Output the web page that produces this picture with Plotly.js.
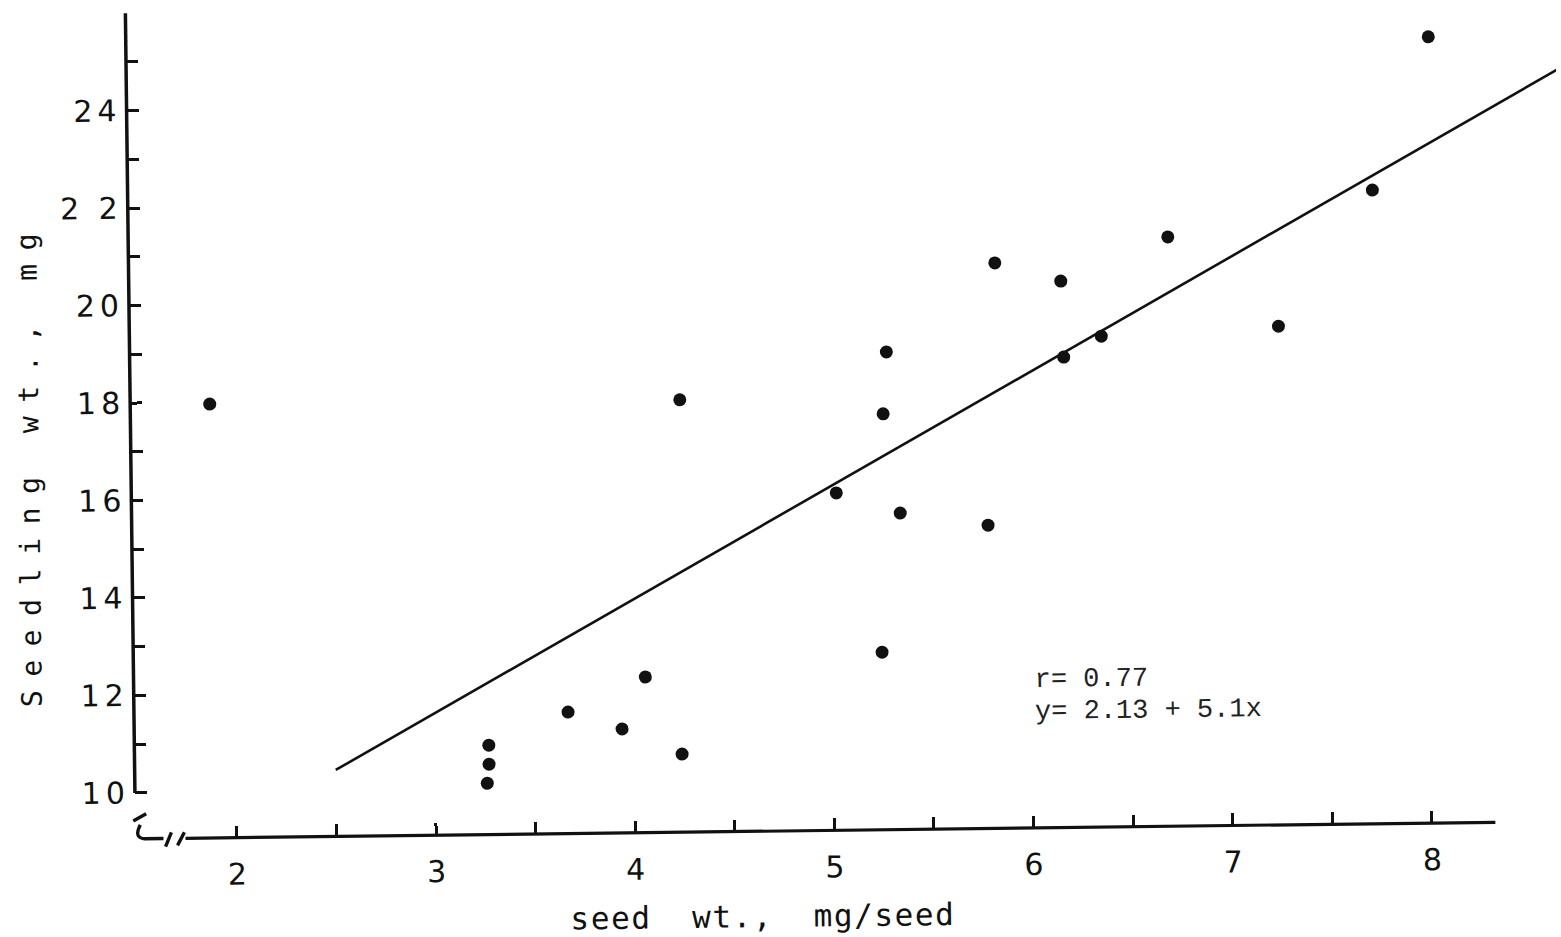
<!DOCTYPE html>
<html>
<head>
<meta charset="utf-8">
<script src="https://cdn.plot.ly/plotly-3.0.1.min.js"></script>
<style>
html,body{margin:0;padding:0;background:#fff;overflow:hidden;}
#chart{width:1561px;height:937px;transform:rotate(-0.7deg);transform-origin:780px 468px;}
</style>
</head>
<body>
<div id="chart"></div>
<script>
// ---- data ----
const seedWt = [1.89, 3.27, 3.27, 3.26, 3.67, 3.94, 4.06, 4.24, 4.25, 5.03, 5.25, 5.27,
                5.29, 5.35, 5.79, 5.84, 6.17, 6.18, 6.37, 6.71, 7.26, 7.74, 8.03];
const seedlingWt = [17.96, 10.89, 10.50, 10.11, 11.55, 11.19, 12.25, 10.66, 17.93, 15.98, 12.70, 17.59,
                    18.86, 15.55, 15.28, 20.66, 20.27, 18.71, 19.13, 21.15, 19.29, 22.06, 25.19];
const fitX = [2.5, 8.69];
const fitY = [10.42, 24.52];
const xTickVals = [2, 2.5, 3, 3.5, 4, 4.5, 5, 5.5, 6, 6.5, 7, 7.5, 8];
const xTickText = ["2", "", "3", "", "4", "", "5", "", "6", "", "7", "", "8"];
const yTickVals = [10, 11, 12, 13, 14, 15, 16, 17, 18, 19, 20, 21, 22, 23, 24, 25];
const yTickText = ["10", "", "12", "", "14", "", "16", "", "18", "", "20", "", "2 2", "", "24", ""];
const statLines = ["r= 0.77", "y= 2.13 + 5.1x"];
const xTitle = "seed\u00a0\u00a0wt.,\u00a0\u00a0mg/seed";
const yTitle = "Seedling\u00a0wt.,\u00a0mg";

// ---- layout geometry (pixels of the un-rotated page) ----
const W = 1561, H = 937, L = 131, B = 106;
const PW = W - L, PH = H - B;
const px = p => (p - L) / PW;          // pixel -> paper x
const py = p => (PH - p) / PH;         // pixel -> paper y
const ink = '#111';

const yTicks = yTickText.map(t => t ? '<span style="letter-spacing:5px">' + t + '</span>' : '');

const traces = [
  {
    x: fitX, y: fitY, mode: 'lines', type: 'scatter',
    line: {color: ink, width: 2.6}, hoverinfo: 'skip', showlegend: false
  },
  {
    x: seedWt, y: seedlingWt, mode: 'markers', type: 'scatter',
    marker: {color: ink, size: 13, line: {width: 0}}, showlegend: false
  }
];

const layout = {
  width: W, height: H,
  margin: {l: L, r: 0, t: 0, b: B, pad: 0},
  paper_bgcolor: '#fff', plot_bgcolor: '#fff',
  showlegend: false,
  xaxis: {
    range: [1.4904, 8.6702], showgrid: false, zeroline: false, showline: false,
    tickmode: 'array', tickvals: xTickVals, ticktext: xTickText,
    ticks: 'inside', ticklen: 12, tickwidth: 3, tickcolor: ink,
    ticklabelstandoff: 16,
    tickfont: {family: 'DejaVu Sans', size: 30, color: ink}
  },
  yaxis: {
    range: [9.056, 26.109], showgrid: false, zeroline: false, showline: false,
    tickmode: 'array', tickvals: yTickVals, ticktext: yTicks,
    ticks: 'inside', ticklen: 12, tickwidth: 3, tickcolor: ink,
    ticklabelstandoff: 4,
    tickfont: {family: 'DejaVu Sans', size: 30, color: ink}
  },
  shapes: [
    // y axis line
    {type: 'line', xref: 'paper', yref: 'y', x0: 0, x1: 0, y0: 10, y1: 26.0,
     line: {color: ink, width: 3.5}},
    // x axis line
    {type: 'line', xref: 'paper', yref: 'paper', x0: px(181), x1: px(1491), y0: 0, y1: 0,
     line: {color: ink, width: 3.2}},
    // axis break
    {type: 'path', xref: 'paper', yref: 'paper',
     path: 'M ' + px(129) + ' ' + py(813) + ' L ' + px(142) + ' ' + py(806) +
           ' M ' + px(136) + ' ' + py(817) + ' Q ' + px(129) + ' ' + py(830) + ' ' + px(140) + ' ' + py(831) +
           ' L ' + px(159) + ' ' + py(831) +
           ' M ' + px(161) + ' ' + py(839) + ' L ' + px(167) + ' ' + py(825) +
           ' M ' + px(173) + ' ' + py(838) + ' L ' + px(180) + ' ' + py(825),
     line: {color: ink, width: 3.4}}
  ],
  annotations: [
    {text: '<span style="letter-spacing:1.6px">' + xTitle + '</span>', xref: 'paper', yref: 'paper',
     x: px(757), y: py(916),
     xanchor: 'center', yanchor: 'middle', showarrow: false,
     font: {family: 'DejaVu Sans Mono', size: 31, color: ink}},
    {text: '<span style="letter-spacing:13.6px">' + yTitle + '</span>', xref: 'paper', yref: 'paper',
     x: px(30), y: py(455), textangle: -90,
     xanchor: 'center', yanchor: 'middle', showarrow: false,
     font: {family: 'DejaVu Sans Mono', size: 28, color: ink}},
    {text: statLines[0], xref: 'paper', yref: 'paper', x: px(1030), y: py(683),
     xanchor: 'left', yanchor: 'middle', showarrow: false,
     font: {family: 'Liberation Mono', size: 27, color: '#222'}},
    {text: statLines[1], xref: 'paper', yref: 'paper', x: px(1030), y: py(715),
     xanchor: 'left', yanchor: 'middle', showarrow: false,
     font: {family: 'Liberation Mono', size: 27, color: '#222'}}
  ]
};

Plotly.newPlot('chart', traces, layout, {staticPlot: true, displayModeBar: false});
</script>
</body>
</html>
